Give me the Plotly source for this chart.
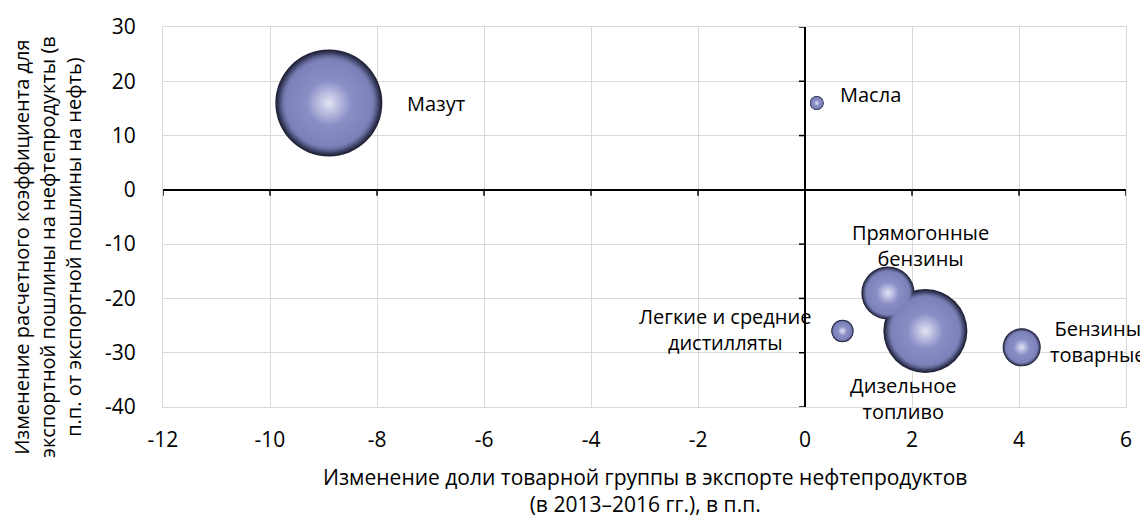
import plotly.graph_objects as go

# Data
names = ["Мазут", "Масла", "Прямогонные<br>бензины", "Легкие и средние<br>дистилляты",
         "Дизельное<br>топливо", "Бензины<br>товарные"]
x_change_share = [-8.9, 0.22, 1.55, 0.7, 2.25, 4.05]
y_change_coef = [16, 16, -19, -26, -26, -29]
bubble_volume = [30.0, 0.5, 7.4, 1.3, 18.5, 3.8]

x_ticks = [-12, -10, -8, -6, -4, -2, 0, 2, 4, 6]
y_ticks = [-40, -30, -20, -10, 0, 10, 20, 30]

# label pixel offsets (styling)
label_shift = [(107, 0), (54, 9), (33, 48), (-117, 2), (-22, -67), (76, 6)]

# sphere shading layers (styling): (radius fraction, edge colour, centre colour)
shade_layers = [
    (1.00, "#1f2136", "#1f2136"),
    (0.975, "#2c2e49", "#2c2e49"),
    (0.95, "#3b3e60", "#3b3e60"),
    (0.925, "#4b4f78", "#4b4f78"),
    (0.90, "#5b5f8d", "#5b5f8d"),
    (0.875, "#696ea0", "#696ea0"),
    (0.85, "#757aaf", "#757aaf"),
    (0.82, "#7c81ba", "#979bd0"),
    (0.42, "#8a8ec6", "#e2e4f4"),
]

FONT = "Open Sans"
max_diam = 107
sizeref = 2.0 * max(bubble_volume) / (max_diam ** 2)

fig = go.Figure()
for frac, edge_col, centre_col in shade_layers:
    fig.add_trace(go.Scatter(
        x=x_change_share, y=y_change_coef, mode="markers",
        marker=dict(size=[v * frac * frac for v in bubble_volume], sizemode="area",
                    sizeref=sizeref, color=edge_col, opacity=1,
                    gradient=dict(type="radial", color=centre_col),
                    line=dict(width=0)),
        hoverinfo="skip", showlegend=False,
    ))

for name, xv, yv, (dx, dy) in zip(names, x_change_share, y_change_coef, label_shift):
    fig.add_annotation(x=xv, y=yv, text=name, showarrow=False, xshift=dx, yshift=dy,
                       align="center", xanchor="center", yanchor="middle",
                       font=dict(family=FONT, size=20, color="#000"))

# tick marks on the zero axes
for yt in y_ticks:
    fig.add_shape(type="line", xref="x", yref="y", xsizemode="pixel", xanchor=0,
                  x0=-6, x1=0, y0=yt, y1=yt, line=dict(color="black", width=1.5))
for xt in x_ticks:
    fig.add_shape(type="line", xref="x", yref="y", ysizemode="pixel", yanchor=0,
                  y0=-6, y1=0, x0=xt, x1=xt, line=dict(color="black", width=1.5))

fig.add_annotation(xref="paper", yref="paper", x=-0.1205, y=0.421, textangle=-90,
                   text="Изменение расчетного коэффициента для<br>экспортной пошлины на нефтепродукты (в<br>п.п. от экспортной пошлины на нефть)",
                   showarrow=False, align="center", xanchor="center", yanchor="middle",
                   font=dict(family=FONT, size=20, color="#000"))
fig.add_annotation(xref="paper", yref="paper", x=0.5, y=-0.221,
                   text="Изменение доли товарной группы в экспорте нефтепродуктов<br>(в 2013–2016 гг.), в п.п.",
                   showarrow=False, align="center", xanchor="center", yanchor="middle",
                   font=dict(family=FONT, size=21, color="#000"))

fig.update_xaxes(range=[-12, 6], tickvals=x_ticks, ticktext=[str(v) for v in x_ticks],
                 showgrid=True, gridcolor="#d9d9d9", gridwidth=1, automargin=False,
                 zeroline=True, zerolinecolor="black", zerolinewidth=1.5,
                 showline=True, mirror=True, linecolor="#d9d9d9", linewidth=1,
                 ticks="", ticklabelstandoff=14, tickfont=dict(family=FONT, size=21, color="#000"))
fig.update_yaxes(range=[-40, 30], tickvals=y_ticks, ticktext=[str(v) for v in y_ticks],
                 showgrid=True, gridcolor="#d9d9d9", gridwidth=1, automargin=False,
                 zeroline=True, zerolinecolor="black", zerolinewidth=1.5,
                 showline=True, mirror=True, linecolor="#d9d9d9", linewidth=1,
                 ticks="", ticklabelstandoff=22, tickfont=dict(family=FONT, size=21, color="#000"))

fig.update_layout(width=1140, height=510, margin=dict(l=155, r=22, t=19, b=111),
                  plot_bgcolor="white", paper_bgcolor="white",
                  font=dict(family=FONT, color="#000"))

fig.write_html("out.html")
